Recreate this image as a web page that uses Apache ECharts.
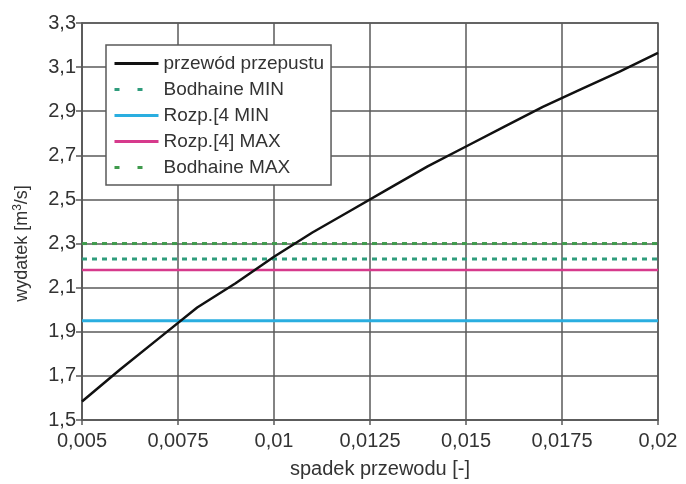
<!DOCTYPE html>
<html><head><meta charset="utf-8">
<script src="https://cdn.jsdelivr.net/npm/echarts@6/dist/echarts.min.js"></script>
<style>html,body{margin:0;padding:0;background:#fff}#c{width:686px;height:484px}</style>
</head><body><div id="c"></div>
<script>
// Data
const slopes = [0.005, 0.006, 0.007, 0.008, 0.009, 0.010, 0.011, 0.012, 0.013, 0.014, 0.015, 0.016, 0.017, 0.018, 0.019, 0.020];
const przewodPrzepustu = [1.584, 1.73, 1.87, 2.01, 2.12, 2.24, 2.35, 2.45, 2.55, 2.65, 2.74, 2.83, 2.92, 3.00, 3.08, 3.165];
const bodhaineMin = [2.23, 2.23];
const rozpMin = [1.95, 1.95];
const rozpMax = [2.18, 2.18];
const bodhaineMax = [2.30, 2.30];
const lineEnds = [0.005, 0.020];
const seriesNames = ['przewód przepustu', 'Bodhaine MIN', 'Rozp.[4 MIN', 'Rozp.[4] MAX', 'Bodhaine MAX'];
const yBase = 1.5;   // bottom of the value axis
const yTop = 3.3;
const yStep = 0.2;
const xStep = 0.0025;

const fmtComma = (v, digits) => {
  let s = digits == null ? String(+v.toPrecision(6)) : v.toFixed(digits);
  return s.replace('.', ',');
};
const shift = (xs, ys) => xs.map((x, i) => [x, +(ys[i] - yBase).toFixed(6)]);

const font = '"Liberation Sans", Arial, Helvetica, sans-serif';
const txt = '#333';
const gridCol = '#5a5a5a';

const chart = echarts.init(document.getElementById('c'), null, {renderer: 'canvas'});
const dashGreenLegend = {type: [5, 18], width: 3};
const solidLegend = {width: 3};
chart.setOption({
  animation: false,
  backgroundColor: '#fff',
  grid: {left: 82, right: 28, top: 23, bottom: 56, show: true, borderColor: gridCol, borderWidth: 1.5},
  legend: {
    orient: 'vertical', left: 106, top: 45,
    backgroundColor: '#fff', borderColor: gridCol, borderWidth: 1.5, borderRadius: 0,
    padding: [9, 7, 8, 7], itemWidth: 44, itemHeight: 14, itemGap: 7,
    itemStyle: {opacity: 0},
    textStyle: {fontFamily: font, fontSize: 19, color: txt},
    data: [
      {name: seriesNames[0], lineStyle: solidLegend},
      {name: seriesNames[1], lineStyle: dashGreenLegend},
      {name: seriesNames[2], lineStyle: solidLegend},
      {name: seriesNames[3], lineStyle: solidLegend},
      {name: seriesNames[4], lineStyle: dashGreenLegend}
    ]
  },
  xAxis: {
    type: 'value', min: lineEnds[0], max: lineEnds[1], interval: xStep,
    name: 'spadek przewodu [-]', nameLocation: 'middle', nameGap: 39,
    nameTextStyle: {fontFamily: font, fontSize: 20, color: txt, padding: [0, 0, 0, 20]},
    axisLine: {show: true, lineStyle: {color: gridCol, width: 1.5}},
    axisTick: {show: true, length: 5, lineStyle: {color: gridCol, width: 1.5}},
    axisLabel: {fontFamily: font, fontSize: 20, color: txt, margin: 11, formatter: v => fmtComma(v)},
    splitLine: {show: true, lineStyle: {color: gridCol, width: 1.5}}
  },
  yAxis: {
    type: 'value', min: 0, max: +(yTop - yBase).toFixed(6), interval: yStep,
    name: 'wydatek [m{sup|3}/s]', nameLocation: 'middle', nameGap: 50, nameRotate: 90,
    nameTextStyle: {fontFamily: font, fontSize: 18, color: txt, padding: [0, 44, 0, 0],
      rich: {sup: {fontFamily: font, fontSize: 12, color: txt, verticalAlign: 'top', padding: [0, 0, 8, 0]}}},
    axisLine: {show: true, lineStyle: {color: gridCol, width: 1.5}},
    axisTick: {show: true, length: 6, lineStyle: {color: gridCol, width: 1.5}},
    axisLabel: {fontFamily: font, fontSize: 20, color: txt, margin: 6, formatter: v => fmtComma(v + yBase, 1)},
    splitLine: {show: true, lineStyle: {color: gridCol, width: 1.5}}
  },
  series: [
    {name: seriesNames[0], type: 'line', symbol: 'none', z: 5,
     lineStyle: {color: '#111', width: 2.5}, itemStyle: {color: '#111'},
     data: shift(slopes, przewodPrzepustu)},
    {name: seriesNames[1], type: 'line', symbol: 'none', z: 3,
     lineStyle: {color: '#2f9c7c', width: 3, type: [5, 5]}, itemStyle: {color: '#2f9c7c'},
     data: shift(lineEnds, bodhaineMin)},
    {name: seriesNames[2], type: 'line', symbol: 'none', z: 3,
     lineStyle: {color: '#2aaee0', width: 3}, itemStyle: {color: '#2aaee0'},
     data: shift(lineEnds, rozpMin)},
    {name: seriesNames[3], type: 'line', symbol: 'none', z: 3,
     lineStyle: {color: '#d63a8c', width: 2.5}, itemStyle: {color: '#d63a8c'},
     data: shift(lineEnds, rozpMax)},
    {name: seriesNames[4], type: 'line', symbol: 'none', z: 3,
     lineStyle: {color: '#3f9a4c', width: 3, type: [5, 5]}, itemStyle: {color: '#3f9a4c'},
     data: shift(lineEnds, bodhaineMax)}
  ]
});
</script>
</body></html>
